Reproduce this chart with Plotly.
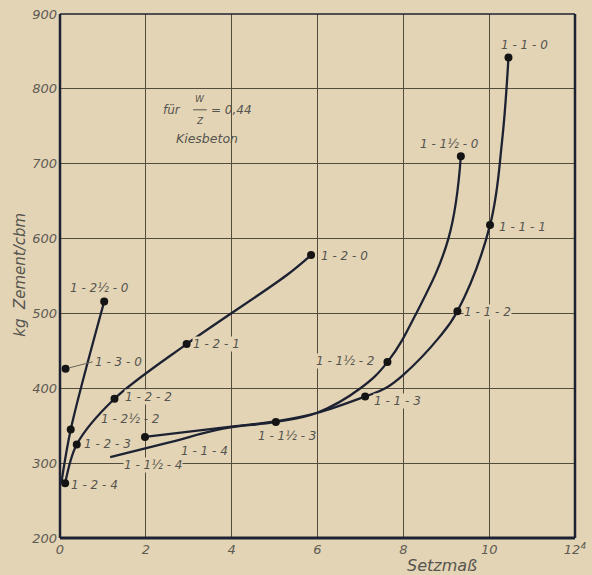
import plotly.graph_objects as go

# ---- data (x = Setzmaß, y = kg Zement/cbm) ----
# curve shape points (including the labelled measurements)
s12_x = [0.12, 0.39, 1.27, 2.95, 5.28, 5.85]
s12_y = [273, 325, 386, 459, 551, 578]

s125_x = [0.03, 0.25, 1.03]
s125_y = [273, 345, 516]

s1_x = [1.98, 4.04, 5.03, 5.98, 7.11, 7.58, 8.0, 8.82, 9.26, 10.02, 10.3, 10.45]
s1_y = [335, 349, 356, 367, 389, 400, 418, 467, 503, 618, 730, 842]

s115_x = [1.17, 2.5, 3.8, 5.03, 5.98, 7.0, 7.63, 8.3, 9.05, 9.34]
s115_y = [308, 327, 346, 355, 367, 400, 435, 500, 600, 710]

# labelled measurement points
pt_labels = ["1-1-0", "1-1½-0", "1-1-1", "1-2-0", "1-1-2", "1-1½-2", "1-1-3",
             "1-1½-3", "1-1-4", "1-1½-4", "1-2-4", "1-2-3", "1-2½-2", "1-2-2",
             "1-3-0", "1-2-1", "1-2½-0"]
pt_x = [10.45, 9.34, 10.02, 5.85, 9.26, 7.63, 7.11,
        5.03, 1.98, 1.17, 0.12, 0.39, 0.25, 1.27,
        0.13, 2.95, 1.03]
pt_y = [842, 710, 618, 578, 503, 435, 389,
        355, 335, 308, 273, 325, 345, 386,
        426, 459, 516]
pt_dot = [True, True, True, True, True, True, True,
          True, True, False, True, True, True, True,
          True, True, True]
# label placement (styling): pixel offsets, anchor, background mask
lab_dx = [16, -11, 8, 9, 6, -12, 8, -19, 35, 13, 5, 6, 29, 9, 27, 5, -5]
lab_dy = [12, 12, -2, -1, -1, 1, -4, -14, -14, -8, -2, 0, 10, 2, 7, 0, 13]
lab_anchor = ["center", "center", "left", "left", "left", "right", "left",
              "left", "left", "left", "left", "left", "left", "left",
              "left", "left", "center"]
lab_mask = [True, True, True, True, True, True, True,
            True, False, True, True, False, False, True,
            True, True, True]

x_ticks = [0, 2, 4, 6, 8, 10, 12]
x_ticktext = ["0", "2", "4", "6", "8", "10", "12<sup>4</sup>"]
y_ticks = [200, 300, 400, 500, 600, 700, 800, 900]

BG = "#e4d4b6"
LINE = "#1d2232"
TXT = "#55544f"
GRID = "#514c3c"
FONT = "DejaVu Sans"

fig = go.Figure()
for xs, ys, sm in [(s12_x, s12_y, 0.9), (s125_x, s125_y, 0.9),
                   (s1_x, s1_y, 1.1), (s115_x, s115_y, 1.15)]:
    fig.add_trace(go.Scatter(x=xs, y=ys, mode="lines",
                             line=dict(color=LINE, width=2.3, shape="spline", smoothing=sm),
                             hoverinfo="skip", showlegend=False))

dx = [x for x, d in zip(pt_x, pt_dot) if d]
dy = [y for y, d in zip(pt_y, pt_dot) if d]
fig.add_trace(go.Scatter(x=dx, y=dy, mode="markers",
                         marker=dict(color="#141414", size=8),
                         showlegend=False))

lab_font = dict(family=FONT, size=12, color=TXT, style="italic")
for lab, x, y, ox, oy, anc, msk in zip(pt_labels, pt_x, pt_y, lab_dx, lab_dy,
                                       lab_anchor, lab_mask):
    txt = lab.replace("-", " - ")
    bg = BG if msk else "rgba(0,0,0,0)"
    if lab == "1-3-0":
        fig.add_annotation(x=x, y=y, text=txt, showarrow=True, arrowhead=0,
                           arrowwidth=1, arrowcolor="#6a655a", ax=ox, ay=-oy,
                           xanchor="left", standoff=4, bgcolor=bg, font=lab_font)
    else:
        fig.add_annotation(x=x, y=y, text=txt, showarrow=False, xanchor=anc,
                           xshift=ox, yshift=oy, bgcolor=bg, borderpad=0,
                           font=lab_font)

# in-chart note
note_font = dict(family=FONT, size=12, color=TXT, style="italic")
small_font = dict(family=FONT, size=9, color=TXT, style="italic")
fig.add_annotation(x=2.62, y=772, text="für", showarrow=False, font=note_font)
fig.add_annotation(x=3.26, y=787, text="W", showarrow=False, font=small_font)
fig.add_annotation(x=3.26, y=757, text="Z", showarrow=False, font=small_font)
fig.add_shape(type="line", x0=3.10, x1=3.42, y0=772, y1=772,
              line=dict(color=TXT, width=1))
fig.add_annotation(x=4.0, y=772, text="= 0,44", showarrow=False, font=note_font)
fig.add_annotation(x=3.42, y=734, text="Kiesbeton", showarrow=False,
                   font=dict(family=FONT, size=12.5, color=TXT, style="italic"))

# axis titles
fig.add_annotation(xref="paper", yref="paper", x=-0.078, y=0.502, text="kg  Zement/cbm",
                   textangle=-90, showarrow=False, xanchor="center", yanchor="middle",
                   font=dict(family=FONT, size=15, color=TXT, style="italic"))
fig.add_annotation(xref="paper", yref="paper", x=0.742, y=-0.053, text="Setzmaß",
                   showarrow=False, xanchor="center", yanchor="middle",
                   font=dict(family=FONT, size=16, color=TXT, style="italic"))

# frame
fig.add_shape(type="line", xref="paper", yref="paper", x0=0, x1=1, y0=1, y1=1,
              line=dict(color=LINE, width=1.5))
fig.add_shape(type="line", xref="paper", yref="paper", x0=1, x1=1, y0=0, y1=1,
              line=dict(color=LINE, width=2.5))
fig.add_shape(type="line", xref="paper", yref="paper", x0=0, x1=0, y0=0, y1=1,
              line=dict(color=LINE, width=2.5))
fig.add_shape(type="line", xref="paper", yref="paper", x0=0, x1=1, y0=0, y1=0,
              line=dict(color=LINE, width=3))

tickfont = dict(family=FONT, size=13, color="#5e5b53", style="italic")
fig.update_xaxes(range=[0, 12], tickvals=x_ticks, ticktext=x_ticktext,
                 showgrid=True, gridcolor=GRID, gridwidth=1, zeroline=False,
                 showline=False, ticks="", tickfont=tickfont, ticklabelstandoff=2,
                 automargin=False)
fig.update_yaxes(range=[200, 900], tickvals=y_ticks,
                 showgrid=True, gridcolor=GRID, gridwidth=1, zeroline=False,
                 showline=False, ticks="", tickfont=tickfont, ticklabelstandoff=2,
                 automargin=False)
fig.update_layout(width=592, height=575, paper_bgcolor=BG, plot_bgcolor=BG,
                  margin=dict(l=60, r=17, t=14, b=37, autoexpand=False),
                  showlegend=False, hovermode=False)
fig.write_html("out.html", config={"displayModeBar": False},
               post_script="document.body.style.margin='0';document.body.style.background='#e4d4b6';")
